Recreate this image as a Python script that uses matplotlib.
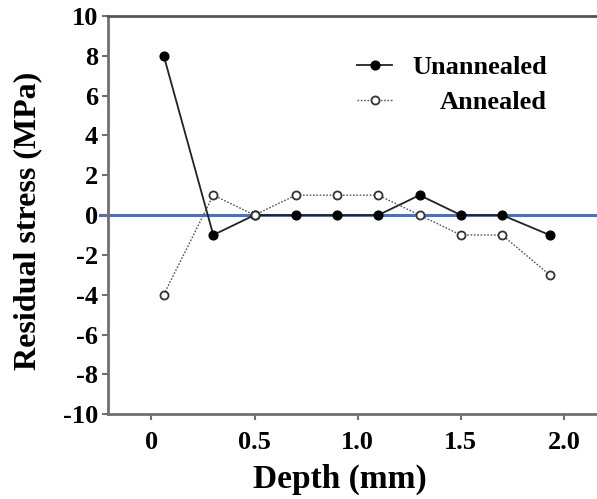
import matplotlib
matplotlib.use("Agg")
import matplotlib.pyplot as plt

depth = [0.06, 0.3, 0.5, 0.7, 0.9, 1.1, 1.3, 1.5, 1.7, 1.93]
unannealed = [8, -1, 0, 0, 0, 0, 1, 0, 0, -1]
annealed = [-4, 1, 0, 1, 1, 1, 0, -1, -1, -3]
xticks = [0, 0.5, 1.0, 1.5, 2.0]
xtick_labels = ["0", "0.5", "1.0", "1.5", "2.0"]
yticks = list(range(-10, 11, 2))

plt.rcParams['font.family'] = ['Liberation Serif', 'DejaVu Serif']
plt.rcParams['font.weight'] = 'bold'
plt.rcParams['axes.unicode_minus'] = False

fig = plt.figure(figsize=(5.97, 4.99), dpi=100)
ax = fig.add_axes([0.181, 0.170, 0.819, 0.798])

ax.axhline(0, xmin=-0.016, xmax=1.0, color="#4a70c2", lw=2.2, clip_on=False, zorder=1)

ax.plot(depth, unannealed, color="#222222", lw=1.3, marker="o", ms=6.3,
        mfc="black", mec="black", label="Unannealed", zorder=3)
ax.plot(depth, annealed, color="#555555", lw=1.0, ls=(0, (1.2, 1.2)), marker="o", ms=5.8,
        mfc="white", mec="#333333", mew=1.3, label="Annealed", zorder=3)

ax.set_xlim(-0.21, 2.16)
ax.set_ylim(-10, 10)
ax.set_xticks(xticks)
ax.set_xticklabels(xtick_labels)
ax.set_yticks(yticks)

for s in ["left", "bottom", "top"]:
    ax.spines[s].set_color("#707070")
    ax.spines[s].set_linewidth(2.0)
ax.spines["top"].set_color("#555555")
ax.spines["right"].set_visible(False)

ax.tick_params(axis="both", direction="out", length=4, width=1.5, color="#707070",
               labelsize=19)
ax.tick_params(axis="x", pad=8)
ax.tick_params(axis="y", pad=3)
for lab in ax.get_xticklabels() + ax.get_yticklabels():
    lab.set_fontweight("bold")

ax.set_xlabel("Depth (mm)", fontsize=24, fontweight="bold", va="top")
ax.set_ylabel("Residual stress (MPa)", fontsize=23, fontweight="bold")
ax.xaxis.set_label_coords(0.474, -0.125)
ax.yaxis.set_label_coords(-0.135, 0.485)

leg = ax.legend(loc="upper left", bbox_to_anchor=(0.46, 0.96), frameon=False,
                handlelength=1.35, handletextpad=0.75, labelspacing=0.45,
                prop={"size": 19, "weight": "bold"})

# right-align the legend labels
fig.canvas.draw()
r = fig.canvas.get_renderer()
texts = leg.get_texts()
widths = [t.get_window_extent(r).width for t in texts]
wmax = max(widths)
for t, w in zip(texts, widths):
    t.set_position((wmax - w, 0))

fig.savefig("out.png", dpi=100, facecolor="white")
